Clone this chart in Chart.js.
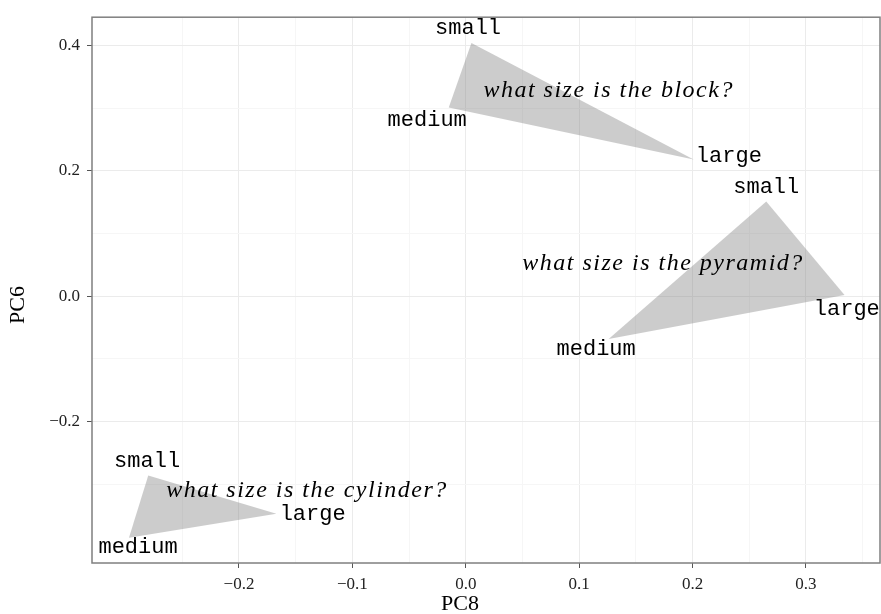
<!DOCTYPE html>
<html lang="en">
<head>
  <meta charset="UTF-8" />
  <title>PC8 vs PC6</title>
  <script src="https://cdn.jsdelivr.net/npm/chart.js"></script>
  <style>
    body { margin: 0; background: #fff; }
    .box { width: 881px; height: 614px; position: relative; }
  </style>
</head>
<body>
  <div class="box"><canvas id="pcChart"></canvas></div>

  <script>
    // vertex order: small, medium, large
    const sizes = ['small', 'medium', 'large'];
    const questions = ['what size is the block?', 'what size is the pyramid?', 'what size is the cylinder?'];

    const blockPC8 = [0.005, -0.015, 0.201];
    const blockPC6 = [0.404, 0.301, 0.218];
    const pyramidPC8 = [0.265, 0.126, 0.334];
    const pyramidPC6 = [0.151, -0.068, 0.002];
    const cylinderPC8 = [-0.280, -0.297, -0.167];
    const cylinderPC6 = [-0.286, -0.385, -0.347];

    // where the size words sit
    const blockLabelPC8 = [0.002, -0.034, 0.232];
    const blockLabelPC6 = [0.423, 0.276, 0.219];
    const pyramidLabelPC8 = [0.265, 0.115, 0.336];
    const pyramidLabelPC6 = [0.169, -0.089, -0.025];
    const cylinderLabelPC8 = [-0.281, -0.289, -0.135];
    const cylinderLabelPC6 = [-0.268, -0.405, -0.353];

    const questionPC8 = [0.126, 0.174, -0.140];
    const questionPC6 = [0.325, 0.048, -0.313];

    const xTicks = [-0.25, -0.2, -0.15, -0.1, -0.05, 0, 0.05, 0.1, 0.15, 0.2, 0.25, 0.3, 0.35];
    const yTicks = [-0.3, -0.2, -0.1, 0, 0.1, 0.2, 0.3, 0.4];

    const shapes = [
      { x: blockPC8, y: blockPC6, lx: blockLabelPC8, ly: blockLabelPC6 },
      { x: pyramidPC8, y: pyramidPC6, lx: pyramidLabelPC8, ly: pyramidLabelPC6 },
      { x: cylinderPC8, y: cylinderPC6, lx: cylinderLabelPC8, ly: cylinderLabelPC6 }
    ];

    const isMajorX = v => Math.abs(v * 10 - Math.round(v * 10)) < 1e-6;
    const isMajorY = v => Math.abs(v * 5 - Math.round(v * 5)) < 1e-6;
    const fmt = v => (v < 0 ? '\u2212' : '') + Math.abs(v).toFixed(1);

    const datasets = shapes.map(s => {
      const pts = s.x.map((x, i) => ({ x: x, y: s.y[i] }));
      pts.push(pts[0]);
      return {
        data: pts,
        showLine: true,
        fill: 'shape',
        backgroundColor: 'rgba(128,128,128,0.4)',
        borderWidth: 0,
        borderColor: 'rgba(0,0,0,0)',
        pointRadius: 0,
        tension: 0
      };
    });

    const textPlugin = {
      id: 'texts',
      afterDatasetsDraw(chart) {
        const c = chart.ctx, xs = chart.scales.x, ys = chart.scales.y;
        c.save();
        c.fillStyle = '#000';
        c.textAlign = 'center';
        c.textBaseline = 'middle';
        c.font = '22px "Liberation Mono"';
        shapes.forEach(s => {
          sizes.forEach((w, i) => {
            // mono glyphs sit a little low with 'middle'
            c.fillText(w, xs.getPixelForValue(s.lx[i]), ys.getPixelForValue(s.ly[i]) - 3);
          });
        });
        c.font = 'italic 24px "Liberation Serif"';
        c.letterSpacing = '1.5px';
        questions.forEach((q, i) => {
          c.fillText(q, xs.getPixelForValue(questionPC8[i]), ys.getPixelForValue(questionPC6[i]) - 2);
        });
        c.restore();
      },
      afterDraw(chart) {
        const c = chart.ctx, a = chart.chartArea;
        c.save();
        c.strokeStyle = '#7f7f7f';
        c.lineWidth = 1.5;
        c.strokeRect(a.left, a.top, a.right - a.left, a.bottom - a.top);
        c.fillStyle = '#000';
        c.font = '22px "Liberation Serif"';
        c.textAlign = 'center';
        c.textBaseline = 'middle';
        c.fillText('PC8', 460, 604);
        c.translate(18, 305);
        c.rotate(-Math.PI / 2);
        c.fillText('PC6', 0, 0);
        c.restore();
      }
    };

    new Chart(document.getElementById('pcChart'), {
      type: 'scatter',
      data: { datasets: datasets },
      plugins: [textPlugin],
      options: {
        responsive: true,
        maintainAspectRatio: false,
        animation: false,
        layout: { padding: { top: 12, right: 1, left: 0, bottom: 0 } },
        plugins: { legend: { display: false }, tooltip: { enabled: false } },
        scales: {
          x: {
            type: 'linear',
            min: -0.3296,
            max: 0.3653,
            afterBuildTicks: sc => { sc.ticks = xTicks.map(v => ({ value: v })); },
            afterFit: sc => { sc.height = 51; },
            border: { display: false },
            grid: {
              color: c => isMajorX(c.tick.value) ? '#ebebeb' : '#f6f6f6',
              tickColor: c => isMajorX(c.tick.value) ? '#555' : 'rgba(0,0,0,0)',
              tickLength: 5,
              lineWidth: 1
            },
            ticks: {
              autoSkip: false,
              maxRotation: 0,
              padding: 6,
              color: '#222',
              font: { family: 'Liberation Serif', size: 17 },
              callback: v => isMajorX(v) ? fmt(v) : ''
            }
          },
          y: {
            type: 'linear',
            min: -0.4254,
            max: 0.445,
            afterBuildTicks: sc => { sc.ticks = yTicks.map(v => ({ value: v })); },
            afterFit: sc => { sc.width = 92; },
            border: { display: false },
            grid: {
              color: c => isMajorY(c.tick.value) ? '#ebebeb' : '#f6f6f6',
              tickColor: c => isMajorY(c.tick.value) ? '#555' : 'rgba(0,0,0,0)',
              tickLength: 5,
              lineWidth: 1
            },
            ticks: {
              autoSkip: false,
              padding: 7,
              color: '#222',
              font: { family: 'Liberation Serif', size: 17 },
              callback: v => isMajorY(v) ? fmt(v) : ''
            }
          }
        }
      }
    });
  </script>
</body>
</html>
